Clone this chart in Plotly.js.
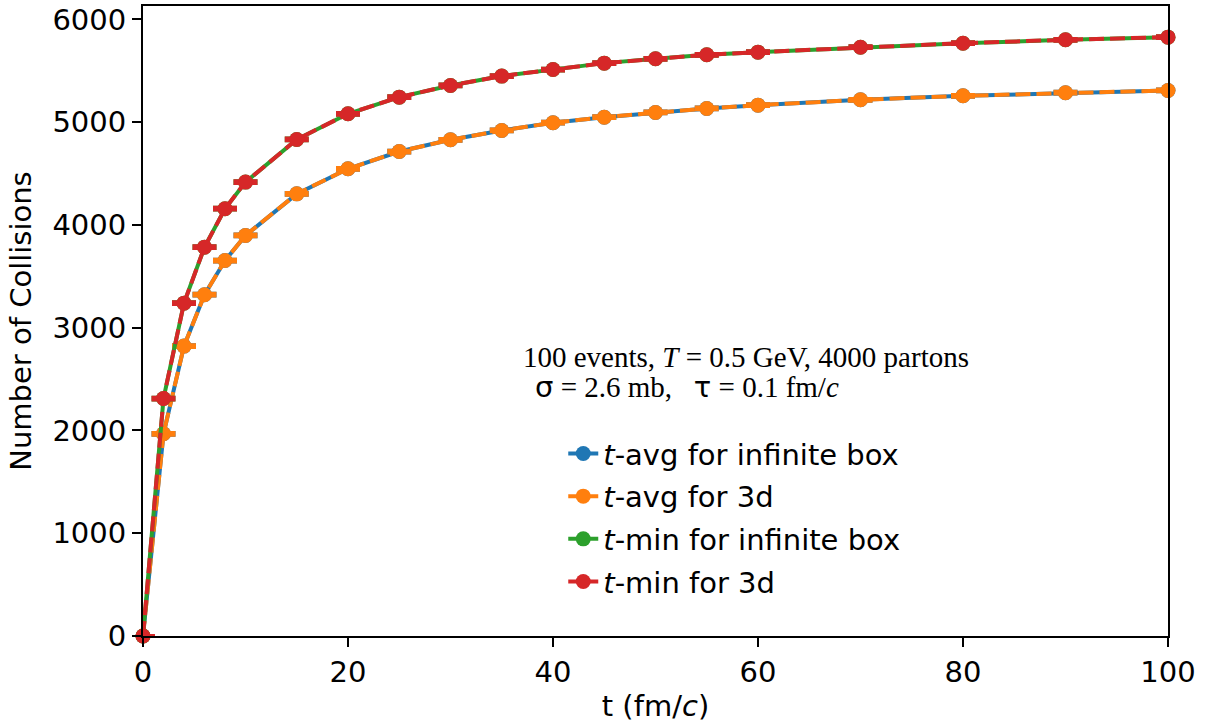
<!DOCTYPE html>
<html>
<head>
<meta charset="utf-8">
<script src="https://cdn.plot.ly/plotly-3.0.1.min.js"></script>
<style>html,body{margin:0;padding:0;background:#fff;}#chart{width:1208px;height:723px;}</style>
</head>
<body>
<div id="chart"></div>
<script>
const tValues = [0, 2, 4, 6, 8, 10, 15, 20, 25, 30, 35, 40, 45, 50, 55, 60, 70, 80, 90, 100];
const tAvgInfinite = [0, 1968, 2821, 3321, 3654, 3898, 4303, 4547, 4715, 4829, 4920, 4995, 5049, 5095, 5134, 5166, 5218, 5257, 5287, 5309];
const tAvg3d       = [0, 1968, 2821, 3321, 3654, 3898, 4303, 4547, 4715, 4829, 4920, 4995, 5049, 5095, 5134, 5166, 5218, 5257, 5287, 5309];
const tMinInfinite = [0, 2311, 3239, 3784, 4158, 4417, 4832, 5082, 5244, 5358, 5449, 5513, 5575, 5617, 5656, 5682, 5730, 5769, 5802, 5828];
const tMin3d       = [0, 2311, 3239, 3784, 4158, 4417, 4832, 5082, 5244, 5358, 5449, 5513, 5575, 5617, 5656, 5682, 5730, 5769, 5802, 5828];
const errAvg = [0, 9, 9, 9, 9, 9, 9, 9, 9, 9, 9, 9, 9, 9, 9, 9, 9, 9, 9, 9];
const errMin = [0, 9, 9, 9, 9, 9, 9, 9, 9, 9, 9, 9, 9, 9, 9, 9, 9, 9, 9, 9];
const seriesNames = ['<i>t</i>-avg for infinite box', '<i>t</i>-avg for 3d', '<i>t</i>-min for infinite box', '<i>t</i>-min for 3d'];
const seriesColors = ['#1f77b4', '#ff7f0e', '#2ca02c', '#d62728'];
const yTickVals = [0, 1000, 2000, 3000, 4000, 5000, 6000];
const xTickVals = [0, 20, 40, 60, 80, 100];

const seriesData = [tAvgInfinite, tAvg3d, tMinInfinite, tMin3d];
const seriesErr = [errAvg, errAvg, errMin, errMin];
const dashes = ['solid', '15px,6px', 'solid', '15px,6px'];

const traces = seriesData.map((ys, i) => ({
  x: tValues,
  y: ys,
  name: seriesNames[i],
  legendgroup: 'g' + i,
  type: 'scatter',
  mode: 'lines+markers',
  cliponaxis: false,
  line: {color: seriesColors[i], width: 4, dash: dashes[i]},
  marker: {color: seriesColors[i], size: 15},
  error_y: {type: 'data', array: seriesErr[i], visible: true, color: seriesColors[i], thickness: 3.9, width: 12}
}));

const sans = 'DejaVu Sans, sans-serif';
const serif = 'Liberation Serif, Times New Roman, serif';
const fs = 29;

const layout = {
  width: 1208,
  height: 723,
  paper_bgcolor: '#ffffff',
  plot_bgcolor: '#ffffff',
  margin: {l: 143, r: 40, t: 6, b: 87, pad: 0},
  showlegend: true,
  font: {family: sans, size: fs, color: '#000'},
  xaxis: {
    range: [0, 100],
    tickvals: xTickVals,
    ticks: 'outside', ticklen: 9, tickwidth: 2, tickcolor: '#000',
    showline: true, linecolor: '#000', linewidth: 2, mirror: true,
    showgrid: false, zeroline: false,
    tickfont: {family: sans, size: fs, color: '#000'},
    title: {text: 't (fm/<i>c</i>)', font: {family: sans, size: fs, color: '#000'}, standoff: 10}
  },
  yaxis: {
    range: [0, 6131],
    tickvals: yTickVals,
    ticks: 'outside', ticklen: 9, tickwidth: 2, tickcolor: '#000',
    showline: true, linecolor: '#000', linewidth: 2, mirror: true,
    showgrid: false, zeroline: false,
    tickfont: {family: sans, size: fs, color: '#000'},
    title: {text: 'Number of Collisions', font: {family: sans, size: fs, color: '#000'}, standoff: 12}
  },
  legend: {
    x: 0.41, y: 0.33, xanchor: 'left', yanchor: 'top',
    bgcolor: 'rgba(255,255,255,0)', borderwidth: 0,
    font: {family: sans, size: fs, color: '#000'},
    traceorder: 'grouped', tracegroupgap: 2
  },
  annotations: [
    {x: 36.9, y: 2712, xref: 'x', yref: 'y', xanchor: 'left', yanchor: 'middle', showarrow: false,
     text: '100 events, <i>T</i> = 0.5 GeV, 4000 partons', font: {family: serif, size: 29, color: '#000'}},
    {x: 38.0, y: 2420, xref: 'x', yref: 'y', xanchor: 'left', yanchor: 'middle', showarrow: false,
     text: '<span style="font-family:DejaVu Sans">σ</span> = 2.6 mb,\u00A0\u00A0\u00A0<span style="font-family:DejaVu Sans">τ</span> = 0.1 fm/<i>c</i>',
     font: {family: serif, size: 29, color: '#000'}}
  ]
};

Plotly.newPlot('chart', traces, layout, {displayModeBar: false, staticPlot: true});
</script>
</body>
</html>
